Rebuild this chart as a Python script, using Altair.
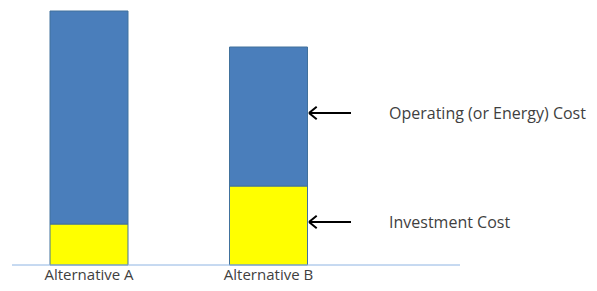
import altair as alt
import pandas as pd

alternatives = ["Alternative A", "Alternative B"]
investment = [41, 79]
operating = [213, 139]
components = ["Investment Cost", "Operating (or Energy) Cost"]
arrow_levels = [43, 152]

rows = []
for i, alt_name in enumerate(alternatives):
    rows.append({"alt": alt_name, "comp": components[0], "value": investment[i], "ord": 0})
    rows.append({"alt": alt_name, "comp": components[1], "value": operating[i], "ord": 1})
bars_df = pd.DataFrame(rows)
labels_df = pd.DataFrame({"alt": alternatives})
base_df = pd.DataFrame({"y0": [0]})
ann_df = pd.DataFrame({"label": components, "level": arrow_levels})

xs = alt.Scale(domain=alternatives, range=[42, 299.5], paddingInner=0.5655, paddingOuter=0)
ys = alt.Scale(domain=[0, 257], range=[257, 0], nice=False, zero=True)

bars = alt.Chart(bars_df).mark_bar(stroke="#41719C", strokeWidth=1).encode(
    x=alt.X("alt:N", scale=xs, axis=None),
    y=alt.Y("value:Q", stack="zero", scale=ys, axis=None),
    color=alt.Color("comp:N", scale=alt.Scale(domain=components, range=["#FFFF00", "#4A7EBB"]), legend=None),
    order=alt.Order("ord:Q"),
)

baseline = alt.Chart(base_df).mark_rule(color="#8EB4E3", strokeWidth=1).encode(
    x=alt.value(4), x2=alt.value(452), y=alt.Y("y0:Q", scale=ys, axis=None)
)

bar_labels = alt.Chart(labels_df).mark_text(
    font="Open Sans", fontSize=15, color="#3F3F3F", baseline="alphabetic", align="center"
).encode(x=alt.X("alt:N", scale=xs, axis=None), y=alt.value(272), text="alt:N")

shafts = alt.Chart(ann_df).mark_rule(color="black", strokeWidth=2).encode(
    x=alt.value(302), x2=alt.value(343), y=alt.Y("level:Q", scale=ys, axis=None)
)

heads = alt.Chart(ann_df).mark_point(
    shape="M-1,0 L0.1,-0.9 M-1,0 L0.1,0.9", filled=False, stroke="black", strokeWidth=2, size=196, opacity=1
).encode(x=alt.value(308), y=alt.Y("level:Q", scale=ys, axis=None))

ann_text = alt.Chart(ann_df).mark_text(
    font="Open Sans", fontSize=16, color="#3F3F3F", align="left", baseline="alphabetic", dy=6
).encode(x=alt.value(381), y=alt.Y("level:Q", scale=ys, axis=None), text="label:N")

chart = alt.layer(bars, baseline, bar_labels, shafts, heads, ann_text).properties(
    width=581, height=275, padding=0, autosize=alt.AutoSizeParams(type="none")
).configure_view(stroke=None)

chart.save("out.html", embed_options={"renderer": "svg", "actions": False})
